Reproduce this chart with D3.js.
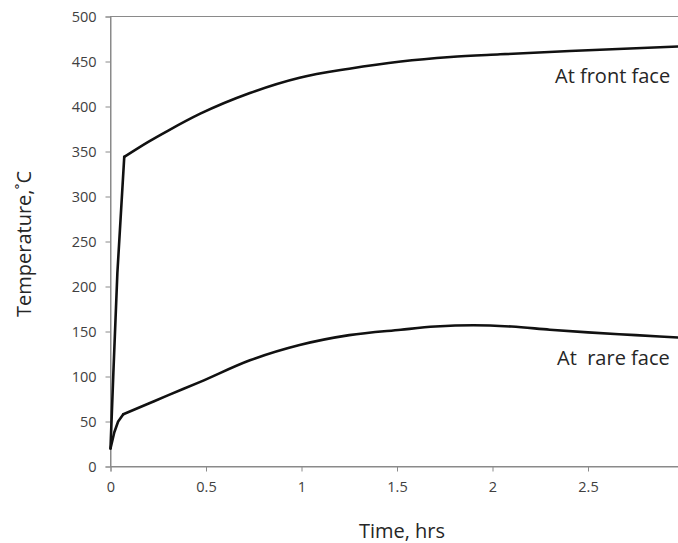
<!DOCTYPE html>
<html>
<head>
<meta charset="utf-8">
<script src="https://cdn.jsdelivr.net/npm/d3@7"></script>
<style>
  html, body { margin: 0; padding: 0; background: #fff; }
  svg { display: block; }
  text { font-family: "Open Sans", "Noto Sans", sans-serif; }
</style>
</head>
<body>
<svg id="chart" width="678" height="543"></svg>
<script>
// Time (hours) and temperature (°C) samples for each face.
// The first block of each face is the fast initial heat-up, the second the slow approach.
const frontRiseTime = [0, 0.015, 0.036, 0.072];
const frontRiseTemp = [20, 104, 215, 344];
const frontTime = [0.072, 0.2, 0.3, 0.47, 0.73, 0.99, 1.25, 1.52, 1.78, 2.04, 2.5, 3.0];
const frontTemp = [344, 361, 373, 392, 415, 432, 442, 450, 455, 458, 462.5, 467];

const rareRiseTime = [0, 0.02, 0.04, 0.067];
const rareRiseTemp = [20, 38, 50, 58];
const rareTime = [0.067, 0.2, 0.3, 0.47, 0.73, 0.99, 1.25, 1.52, 1.7, 1.9, 2.1, 2.3, 2.5, 2.75, 3.0];
const rareTemp = [58, 70, 79, 94, 118, 135, 146, 152, 155.5, 157, 155.5, 152, 149, 146, 143];

const xTicks = [0, 0.5, 1, 1.5, 2, 2.5, 3];
const yTicks = [0, 50, 100, 150, 200, 250, 300, 350, 400, 450, 500];

const xTitle = "Time, hrs";
const yTitle = "Temperature,˚C";
const frontLabel = "At front face";
const rareLabel = "At\u00a0 rare face";

const svg = d3.select("#chart");
const axisColor = "#8a8a8a";

const x = d3.scaleLinear().domain([0, 3]).range([110.5, 683.5]);
const y = d3.scaleLinear().domain([0, 500]).range([466.5, 16.5]);

// plot area frame (top edge visible, right edge runs off the page)
svg.append("rect")
  .attr("x", x(0)).attr("y", y(500))
  .attr("width", x(3) - x(0)).attr("height", y(0) - y(500))
  .attr("fill", "none").attr("stroke", axisColor).attr("stroke-width", 1);

// y axis
const yAxis = svg.append("g")
  .attr("transform", `translate(${x(0)},0)`)
  .call(d3.axisLeft(y).tickValues(yTicks).tickSize(5).tickPadding(9).tickFormat(d3.format("d")));
yAxis.select(".domain").attr("stroke", axisColor);
yAxis.selectAll(".tick line").attr("stroke", axisColor);
yAxis.selectAll(".tick text")
  .attr("fill", "#404040").style("font-size", "14.5px").attr("dy", "0.34em");

// x axis
const xAxis = svg.append("g")
  .attr("transform", `translate(0,${y(0)})`)
  .call(d3.axisBottom(x).tickValues(xTicks).tickSize(5).tickPadding(10).tickFormat(d => String(d)));
xAxis.select(".domain").attr("stroke", axisColor);
xAxis.selectAll(".tick line").attr("stroke", axisColor);
xAxis.selectAll(".tick text")
  .attr("fill", "#404040").style("font-size", "14.5px");

// curves: straight initial rise, smooth slow approach
const riseLine = d3.line().x(d => x(d[0])).y(d => y(d[1]));
const tailLine = d3.line().x(d => x(d[0])).y(d => y(d[1])).curve(d3.curveMonotoneX);

const curves = svg.append("g")
  .attr("fill", "none")
  .attr("stroke", "#111")
  .attr("stroke-width", 2.6)
  .attr("stroke-linejoin", "round")
  .attr("stroke-linecap", "round");

curves.selectAll("path.rise")
  .data([d3.zip(frontRiseTime, frontRiseTemp), d3.zip(rareRiseTime, rareRiseTemp)])
  .join("path").attr("class", "rise").attr("d", riseLine);
curves.selectAll("path.tail")
  .data([d3.zip(frontTime, frontTemp), d3.zip(rareTime, rareTemp)])
  .join("path").attr("class", "tail").attr("d", tailLine);

// annotations
svg.append("text")
  .attr("x", 555).attr("y", 83)
  .attr("fill", "#262626").style("font-size", "20px")
  .text(frontLabel);
svg.append("text")
  .attr("x", 557).attr("y", 365)
  .attr("fill", "#262626").style("font-size", "20px")
  .text(rareLabel);

// axis titles
svg.append("text")
  .attr("x", 402).attr("y", 538)
  .attr("text-anchor", "middle")
  .attr("fill", "#262626").style("font-size", "20px")
  .text(xTitle);
svg.append("text")
  .attr("transform", "translate(31,244) rotate(-90)")
  .attr("text-anchor", "middle")
  .attr("fill", "#262626").style("font-size", "20px")
  .text(yTitle);
</script>
</body>
</html>
